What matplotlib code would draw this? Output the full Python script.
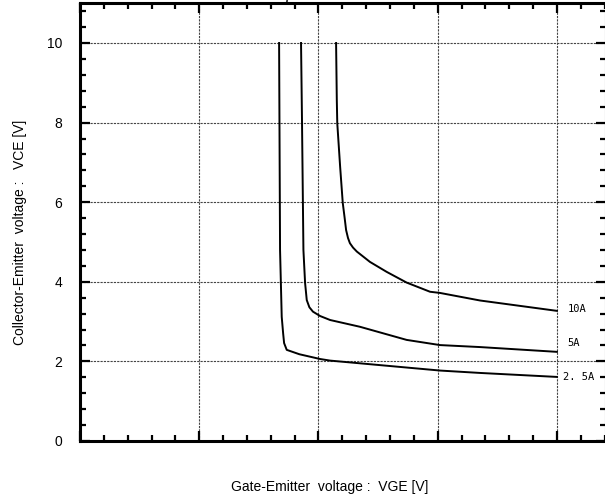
import matplotlib
matplotlib.use("Agg")
import matplotlib.pyplot as plt
from matplotlib.ticker import MultipleLocator

plt.rcParams['font.family'] = ['Liberation Sans', 'DejaVu Sans']

# Data (VGE [V], VCE [V])
vge_10a = [10.74, 10.77, 10.79, 10.91, 11.02, 11.10, 11.16, 11.24, 11.32, 11.45, 11.61, 12.16, 12.86, 13.70, 14.68, 15.10, 16.78, 20.0]
vce_10a = [10.0, 8.57, 7.98, 6.89, 5.98, 5.60, 5.30, 5.10, 4.97, 4.86, 4.76, 4.50, 4.25, 3.98, 3.75, 3.72, 3.53, 3.27]

vge_5a = [9.27, 9.31, 9.37, 9.44, 9.51, 9.62, 9.77, 10.07, 10.49, 11.74, 13.70, 15.10, 16.78, 20.0]
vce_5a = [10.0, 8.07, 4.80, 3.97, 3.54, 3.36, 3.25, 3.14, 3.04, 2.87, 2.54, 2.41, 2.36, 2.24]

vge_2a5 = [8.35, 8.39, 8.46, 8.52, 8.56, 8.67, 9.20, 10.07, 10.49, 15.10, 16.78, 20.0]
vce_2a5 = [10.0, 4.80, 3.12, 2.70, 2.46, 2.29, 2.18, 2.06, 2.02, 1.77, 1.71, 1.61]

curve_labels = ['10A', '5A', '2. 5A']
y_ticks = [0, 2, 4, 6, 8, 10]

W, H = 605, 504
fig = plt.figure(figsize=(W / 100, H / 100), dpi=100)
ax = fig.add_axes([80 / W, (H - 441) / H, (606 - 80) / W, (441 - 3.2) / H])

ax.set_xlim(0, 22.06)
ax.set_ylim(0, 11)

for xs, ys in [(vge_10a, vce_10a), (vge_5a, vce_5a), (vge_2a5, vce_2a5)]:
    ax.plot(xs, ys, color='black', lw=1.4, solid_joinstyle='round', zorder=3)

for xs, ys, lab in [(vge_10a, vce_10a, curve_labels[0]),
                    (vge_5a, vce_5a, curve_labels[1]),
                    (vge_2a5, vce_2a5, curve_labels[2])]:
    off = 0.45 if lab != '2. 5A' else 0.25
    dy = 0.05 if lab == '10A' else (0.22 if lab == '5A' else 0.0)
    ax.text(xs[-1] + off, ys[-1] + dy, lab, family='DejaVu Sans Mono',
            fontsize=7.5, va='center', ha='left')

ax.xaxis.set_major_locator(MultipleLocator(5))
ax.xaxis.set_minor_locator(MultipleLocator(1))
ax.yaxis.set_minor_locator(MultipleLocator(0.4))
ax.set_yticks(y_ticks)

ax.tick_params(which='both', direction='in', top=True, right=True, width=1.6, color='black')
ax.tick_params(which='major', length=7, labelsize=10, pad=13)
ax.tick_params(which='minor', length=4)
ax.tick_params(axis='x', labelbottom=False)

ax.grid(True, which='major', color='#444444', lw=0.8, linestyle=(0, (2, 1)))

for s in ax.spines.values():
    s.set_linewidth(2.2)

fig.text(330 / W, 1 - 487 / H, 'Gate-Emitter  voltage :  VGE [V]', ha='center', va='center', fontsize=10)
fig.text(20 / W, 1 - 232 / H, 'Collector-Emitter  voltage :   VCE [V]', ha='center', va='center',
         rotation=90, fontsize=10)
fig.text(308 / W, 1 - 3 / H, 'Tj = 25°C', ha='center', va='bottom', fontsize=11)

fig.savefig('out.png', dpi=100)
